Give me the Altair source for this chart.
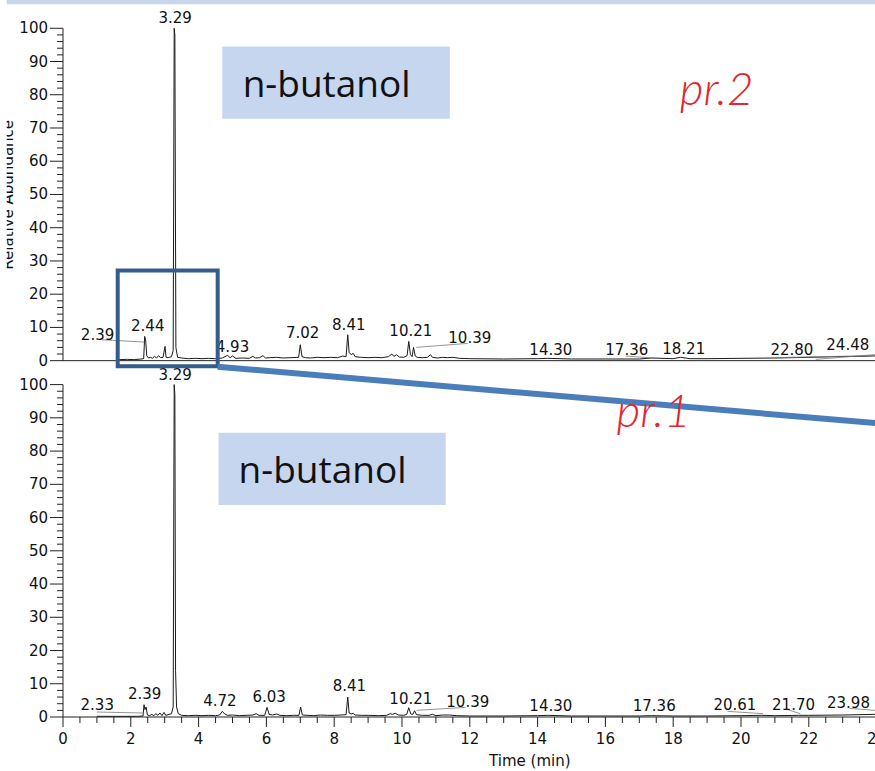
import altair as alt
import pandas as pd

# ---------------- data ----------------
# upper chromatogram (pr.2): (time in min, relative abundance)
top_trace = [(1.65,0.3),(1.90,0.4),(2.10,0.3),(2.30,0.5),(2.38,0.6),(2.41,7.3),(2.44,6.0),(2.47,1.5),
             (2.52,0.8),(2.58,1.0),(2.64,0.7),(2.70,1.3),(2.76,0.8),(2.82,1.5),(2.88,0.9),(2.95,1.0),
             (3.01,4.3),(3.04,1.0),(3.10,0.9),(3.20,1.2),(3.25,3.0),(3.28,100),(3.30,98),(3.33,4.0),
             (3.38,1.0),(3.50,0.8),(3.70,0.6),(3.90,0.7),(4.10,0.6),(4.30,0.7),(4.50,0.6),(4.70,0.8),
             (4.85,1.6),(4.93,0.9),(5.00,1.4),(5.10,0.7),(5.30,0.8),(5.50,0.7),(5.60,1.3),(5.68,0.8),
             (5.80,0.9),(5.90,1.5),(5.97,0.8),(6.10,0.9),(6.30,1.0),(6.50,0.8),(6.70,0.9),(6.95,1.0),
             (7.00,4.8),(7.05,1.2),(7.15,0.9),(7.30,0.8),(7.50,1.0),(7.70,0.9),(7.90,1.0),(8.10,0.9),
             (8.25,1.4),(8.35,1.2),(8.40,7.8),(8.44,2.5),(8.50,1.8),(8.56,2.2),(8.62,1.2),(8.80,1.0),
             (9.00,0.9),(9.20,1.0),(9.40,0.9),(9.60,1.2),(9.70,2.0),(9.76,1.3),(9.84,1.8),(9.92,1.1),
             (10.05,1.0),(10.15,1.5),(10.20,5.8),(10.25,1.8),(10.30,1.2),(10.34,4.0),(10.39,1.4),
             (10.45,1.0),(10.60,0.9),(10.75,1.0),(10.84,1.8),(10.90,1.0),(11.05,0.8),(11.20,1.0),
             (11.35,0.9),(11.50,1.0),(11.70,0.7),(12.00,0.6),(13.00,0.5),(14.00,0.6),(14.30,0.7),
             (15.00,0.5),(16.00,0.5),(17.00,0.5),(17.36,0.8),(18.00,0.6),(18.21,1.0),(18.50,0.6),
             (19.00,0.6),(20.00,0.7),(21.00,0.8),(22.00,1.0),(22.80,1.2),(23.50,1.3),(24.20,1.5)]

# lower chromatogram (pr.1)
bottom_trace = [(1.00,0.2),(2.20,0.2),(2.36,0.3),(2.39,3.7),(2.42,2.2),(2.45,3.0),(2.49,0.6),(2.56,0.4),
                (2.62,0.8),(2.68,0.4),(2.74,1.0),(2.80,0.5),(2.86,1.2),(2.92,0.4),(2.98,1.4),(3.03,0.5),
                (3.10,0.7),(3.20,1.0),(3.25,3.0),(3.28,100),(3.30,97),(3.32,14),(3.35,3.0),(3.40,1.0),
                (3.50,0.5),(3.70,0.4),(3.90,0.5),(4.10,0.4),(4.30,0.5),(4.50,0.4),(4.62,0.6),(4.70,1.7),
                (4.76,1.0),(4.85,0.5),(5.00,0.6),(5.20,0.4),(5.40,0.5),(5.60,0.6),(5.70,1.0),(5.78,0.5),
                (5.95,0.5),(6.02,2.9),(6.08,0.8),(6.18,0.6),(6.30,0.9),(6.40,0.5),(6.60,0.4),(6.80,0.5),
                (6.96,0.5),(7.01,3.0),(7.06,0.6),(7.20,0.5),(7.40,0.4),(7.60,0.6),(7.80,0.5),(8.00,0.5),
                (8.20,0.6),(8.35,0.7),(8.40,6.0),(8.44,1.2),(8.50,0.9),(8.56,1.1),(8.62,0.6),(8.80,0.5),
                (9.00,0.5),(9.30,0.4),(9.55,0.5),(9.65,1.0),(9.72,0.8),(9.80,1.1),(9.90,0.6),(10.05,0.5),
                (10.14,0.8),(10.20,2.8),(10.26,0.9),(10.32,0.8),(10.37,1.9),(10.43,0.7),(10.60,0.5),
                (10.80,0.5),(10.90,0.8),(11.00,0.4),(11.20,0.6),(11.40,0.6),(11.60,0.4),(12.00,0.3),
                (13.00,0.3),(14.00,0.4),(14.30,0.5),(15.00,0.3),(16.00,0.3),(17.00,0.3),(17.36,0.4),
                (18.00,0.3),(19.00,0.3),(20.00,0.4),(20.61,0.5),(21.00,0.4),(21.70,0.5),(22.00,0.5),
                (23.00,0.6),(23.98,0.8),(24.20,0.8)]

# peak labels: (text, time position, abundance position)
top_labels = [("3.29",3.31,103.0),("2.39",1.02,7.8),("2.44",2.50,10.5),("4.93",5.00,4.2),
              ("7.02",7.07,8.4),("8.41",8.43,10.8),("10.21",10.26,8.8),("10.39",12.00,6.9),
              ("14.30",14.39,3.3),("17.36",16.63,3.3),("18.21",18.31,3.6),("22.80",21.50,3.3),
              ("24.48",23.15,4.8)]
bottom_labels = [("3.29",3.31,103.0),("2.33",1.01,3.7),("2.39",2.41,7.0),("4.72",4.63,4.9),
                 ("6.03",6.08,6.0),("8.41",8.45,9.2),("10.21",10.26,5.5),("10.39",11.94,4.6),
                 ("14.30",14.39,3.4),("17.36",17.44,3.4),("20.61",19.82,3.7),("21.70",21.55,3.7),
                 ("23.98",23.17,4.3)]

# leader lines from labels to peaks: (t1, a1, t2, a2)
top_leaders = [(1.15,6.3,2.40,5.6),(10.42,4.0,11.94,5.2),(16.6,1.4,17.5,0.7),
               (21.0,0.9,24.2,1.6),(22.2,0.4,24.2,2.0)]
bottom_leaders = [(1.00,1.5,2.38,1.2),(10.43,2.0,11.88,2.9),(19.6,1.7,20.65,1.0),
                  (21.35,2.3,21.75,1.0),(23.2,2.6,24.2,1.8)]

x_tick_values = [0, 2, 4, 6, 8, 10, 12, 14, 16, 18, 20, 22, 24]
x_minor_values = [0.5, 1, 1.5, 2.5, 3, 3.5, 4.5, 5, 5.5, 6.5, 7, 7.5, 8.5, 9, 9.5, 10.5, 11, 11.5,
                  12.5, 13, 13.5, 14.5, 15, 15.5, 16.5, 17, 17.5, 18.5, 19, 19.5, 20.5, 21, 21.5,
                  22.5, 23, 23.5]
y_tick_values = [0, 10, 20, 30, 40, 50, 60, 70, 80, 90, 100]
y_minor_values = [2, 4, 6, 8, 12, 14, 16, 18, 22, 24, 26, 28, 32, 34, 36, 38, 42, 44, 46, 48,
                  52, 54, 56, 58, 62, 64, 66, 68, 72, 74, 76, 78, 82, 84, 86, 88, 92, 94, 96, 98]

# ---------------- layout ----------------
W, H = 812, 717            # plot area in pixels
PX_MIN = 33.9              # pixels per minute
PX_UNIT = 3.324            # pixels per abundance unit
XMAX = W / PX_MIN
GMAX = H / PX_UNIT
OFF = 107.2                # vertical shift of the upper panel (abundance units)
MAJOR_Y = 10 / PX_UNIT     # x-axis major tick length
MINOR_Y = 6 / PX_UNIT      # x-axis minor tick length
MAJOR_X = 13 / PX_MIN      # y-axis major tick length
MINOR_X = 6 / PX_MIN       # y-axis minor tick length
XLAB_Y = -22 / PX_UNIT     # x tick label centre
YLAB_X = -15 / PX_MIN      # y tick label right edge

XS = alt.Scale(domain=[0, XMAX], nice=False, zero=False)
YS = alt.Scale(domain=[0, GMAX], nice=False, zero=False)
FONT = "DejaVu Sans"
AXIS_COLOR = "#222222"
TEXT_COLOR = "#111111"


def X(f="x"):
    return alt.X(f, type="quantitative", scale=XS, axis=None)


def Y(f="y"):
    return alt.Y(f, type="quantitative", scale=YS, axis=None)


def rules(df, color=AXIS_COLOR, width=1.0):
    return alt.Chart(df).mark_rule(color=color, strokeWidth=width).encode(
        x=X(), x2=alt.X2("x2"), y=Y(), y2=alt.Y2("y2"))


def texts(df, **kw):
    return alt.Chart(df).mark_text(**kw).encode(x=X(), y=Y(), text="text:N")


top_df = pd.DataFrame({"x": [p[0] for p in top_trace], "y": [p[1] + OFF for p in top_trace]})
bot_df = pd.DataFrame({"x": [p[0] for p in bottom_trace], "y": [p[1] for p in bottom_trace]})

trace_bottom = alt.Chart(bot_df).mark_line(color="#1a1a1a", strokeWidth=1).encode(x=X(), y=Y())
trace_top = alt.Chart(top_df).mark_line(color="#1a1a1a", strokeWidth=1).encode(x=X(), y=Y())

lab_df = pd.DataFrame(
    [{"x": t, "y": a + OFF, "text": s} for s, t, a in top_labels]
    + [{"x": t, "y": a, "text": s} for s, t, a in bottom_labels]
)
lead_df = pd.DataFrame(
    [{"x": a, "y": b + OFF, "x2": c, "y2": d + OFF} for a, b, c, d in top_leaders]
    + [{"x": a, "y": b, "x2": c, "y2": d} for a, b, c, d in bottom_leaders]
)

# axis lines: y axis of each panel, baseline of upper panel, bottom time axis
axis_df = pd.DataFrame([
    {"x": 0, "x2": 0, "y": 0, "y2": 100},
    {"x": 0, "x2": 0, "y": OFF, "y2": OFF + 100},
    {"x": 0, "x2": XMAX, "y": OFF, "y2": OFF},
    {"x": 0, "x2": XMAX, "y": 0, "y2": 0},
])

# ticks
y_ticks_df = pd.DataFrame(
    [{"x": 0, "x2": -MAJOR_X, "y": v + o, "y2": v + o} for o in (0, OFF) for v in y_tick_values]
    + [{"x": 0, "x2": -MINOR_X, "y": v + o, "y2": v + o} for o in (0, OFF) for v in y_minor_values]
)
x_ticks_df = pd.DataFrame(
    [{"x": v, "x2": v, "y": 0, "y2": -MAJOR_Y} for v in x_tick_values]
    + [{"x": v, "x2": v, "y": 0, "y2": -MINOR_Y} for v in x_minor_values]
)
y_lab_df = pd.DataFrame([{"x": YLAB_X, "y": v + o, "text": str(v)}
                         for o in (0, OFF) for v in y_tick_values])
x_lab_df = pd.DataFrame([{"x": v, "y": XLAB_Y, "text": str(v)} for v in x_tick_values])

title_df = pd.DataFrame([{"x": 13.77, "y": -13.2, "text": "Time (min)"}])
ytitle_df = pd.DataFrame([{"x": -1.47, "y": 157.1, "text": "Relative Abundance"}])

strip_df = pd.DataFrame([{"x": -2.0, "x2": XMAX + 1, "y": GMAX - 1.3, "y2": GMAX + 1}])
box_df = pd.DataFrame([
    {"x": 4.70, "x2": 11.41, "y": 180.0, "y2": 201.7},
    {"x": 4.59, "x2": 11.29, "y": 63.8, "y2": 85.5},
])
name_df = pd.DataFrame([
    {"x": 5.30, "y": 186.5, "text": "n-butanol"},
    {"x": 5.18, "y": 70.5, "text": "n-butanol"},
])
zoom_df = pd.DataFrame([{"x": 1.614, "x2": 4.563, "y": 105.5, "y2": 134.3}])
conn_df = pd.DataFrame([{"x": 4.56, "y": 105.4, "x2": 24.2, "y2": 88.2}])
note_df = pd.DataFrame([
    {"x": 18.19, "y": 184.2, "text": "pr.2"},
    {"x": 16.33, "y": 87.3, "text": "pr.1"},
])
edge_df = pd.DataFrame([{"x": -2.0, "x2": -1.66, "y": 120, "y2": GMAX + 1}])

strip = alt.Chart(strip_df).mark_rect(color="#c6d7ec").encode(
    x=X(), x2=alt.X2("x2"), y=Y(), y2=alt.Y2("y2"))
boxes = alt.Chart(box_df).mark_rect(color="#c5d6ee").encode(
    x=X(), x2=alt.X2("x2"), y=Y(), y2=alt.Y2("y2"))
names = texts(name_df, font="Open Sans", fontSize=37, color=TEXT_COLOR,
              align="left", baseline="alphabetic")
axis_lines = rules(axis_df)
y_ticks = rules(y_ticks_df)
x_ticks = rules(x_ticks_df)
y_labels = texts(y_lab_df, font=FONT, fontSize=15, color=TEXT_COLOR, align="right",
                 baseline="middle")
x_labels = texts(x_lab_df, font=FONT, fontSize=15, color=TEXT_COLOR, align="center",
                 baseline="middle")
leaders = rules(lead_df, color="#7a7a7a", width=0.8)
labels = texts(lab_df, font=FONT, fontSize=15, color=TEXT_COLOR, align="center",
               baseline="middle")
x_title = texts(title_df, font=FONT, fontSize=15, color=TEXT_COLOR, align="center",
                baseline="middle")
y_title = texts(ytitle_df, font=FONT, fontSize=15, color=TEXT_COLOR, angle=270,
                align="center", baseline="alphabetic")
zoom_box = alt.Chart(zoom_df).mark_rect(fill=None, stroke="#345c8c", strokeWidth=4).encode(
    x=X(), x2=alt.X2("x2"), y=Y(), y2=alt.Y2("y2"))
connector = rules(conn_df, color="#4a7ebb", width=6)
notes = texts(note_df, font="Lato", fontSize=46, fontStyle="italic", fontWeight=300,
              color="#e3262d", align="left", baseline="alphabetic")
edge = alt.Chart(edge_df).mark_rect(color="white").encode(
    x=X(), x2=alt.X2("x2"), y=Y(), y2=alt.Y2("y2"))

chart = alt.layer(
    strip, boxes, names, trace_bottom, trace_top, axis_lines, y_ticks, x_ticks,
    y_labels, x_labels, leaders, labels, x_title, y_title, zoom_box, connector, notes, edge
).properties(
    width=W, height=H,
    autosize=alt.AutoSizeParams(type="none"),
    padding={"left": 63, "top": 0, "right": 0, "bottom": 54},
    background="white",
).configure_view(stroke=None)

chart.save("out.html", embed_options={"renderer": "svg", "actions": False})
